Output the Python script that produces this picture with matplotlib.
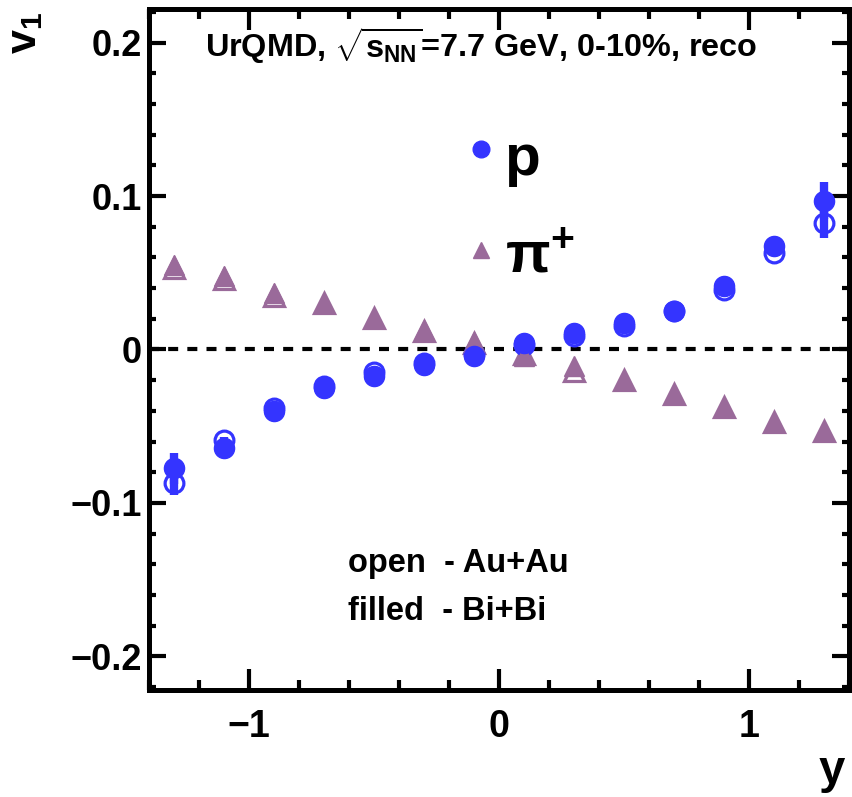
import numpy as np
import matplotlib
matplotlib.use("Agg")
import matplotlib.pyplot as plt
from matplotlib.ticker import MultipleLocator

plt.rcParams["font.family"] = ["Liberation Sans", "DejaVu Sans"]
plt.rcParams["font.weight"] = "bold"
plt.rcParams["mathtext.fontset"] = "custom"
plt.rcParams["mathtext.rm"] = "Liberation Sans:bold"
plt.rcParams["mathtext.it"] = "Liberation Sans:bold"
plt.rcParams["mathtext.bf"] = "Liberation Sans:bold"

# rapidity bins
y_bins = [-1.3, -1.1, -0.9, -0.7, -0.5, -0.3, -0.1, 0.1, 0.3, 0.5, 0.7, 0.9, 1.1, 1.3]

# protons
p_bibi = [-0.0775, -0.064, -0.040, -0.0248, -0.017, -0.0098, -0.0045,
          0.004, 0.011, 0.017, 0.0254, 0.0417, 0.0677, 0.097]
p_bibi_err = [0.010, 0.002, 0.002, 0.002, 0.002, 0.002, 0.002,
              0.002, 0.002, 0.002, 0.002, 0.002, 0.002, 0.012]
p_auau = [-0.087, -0.059, -0.038, -0.024, -0.015, -0.009, -0.003,
          0.003, 0.009, 0.0155, 0.0254, 0.0385, 0.063, 0.0827]
p_auau_err = [0.008, 0.002, 0.002, 0.002, 0.002, 0.002, 0.002,
              0.002, 0.002, 0.002, 0.002, 0.002, 0.002, 0.010]

# positive pions
pi_bibi = [0.0553, 0.048, 0.037, 0.030, 0.0208, 0.0124, 0.005,
           -0.004, -0.011, -0.0196, -0.0287, -0.0376, -0.0475, -0.0534]
pi_auau = [0.053, 0.046, 0.035, 0.030, 0.0205, 0.0122, 0.0045,
           -0.003, -0.014, -0.0196, -0.0287, -0.0376, -0.0475, -0.0534]

blue = "#3434ff"
purple = "#9a6a9a"

fig = plt.figure(figsize=(8.53, 7.97), dpi=100)
ax = fig.add_axes([0.1747, 0.1343, 0.8206, 0.8544])

ax.axhline(0, color="black", lw=3, dashes=(2.4, 2.2), zorder=1)

ax.errorbar(y_bins, p_auau, yerr=p_auau_err, fmt="o", ms=13.5, mfc="none",
            mec=blue, mew=2.3, ecolor=blue, elinewidth=6, capsize=0, zorder=3)
ax.errorbar(y_bins, p_bibi, yerr=p_bibi_err, fmt="o", ms=14.5, mfc=blue,
            mec=blue, ecolor=blue, elinewidth=6, capsize=0, zorder=4)
ax.plot(y_bins, pi_auau, "^", ms=14, mfc="none", mec=purple, mew=2.3, zorder=3)
ax.plot(y_bins, pi_bibi, "^", ms=14, mfc=purple, mec=purple, zorder=4)

ax.set_xlim(-1.4, 1.4)
ax.set_ylim(-0.222, 0.222)

ax.xaxis.set_minor_locator(MultipleLocator(0.2))
ax.yaxis.set_minor_locator(MultipleLocator(0.02))
ax.set_xticks([-1, 0, 1])
ax.set_xticklabels(["\u22121", "0", "1"], fontweight="bold")
ax.set_yticks([-0.2, -0.1, 0, 0.1, 0.2])
ax.set_yticklabels(["\u22120.2", "\u22120.1", "0", "0.1", "0.2"],
                   fontweight="bold")

for s in ax.spines.values():
    s.set_linewidth(3.6)
ax.tick_params(axis="both", which="both", direction="in", top=True, right=True,
               width=3)
ax.tick_params(axis="x", which="major", length=15, labelsize=27, pad=14)
ax.tick_params(axis="x", which="minor", length=7)
ax.tick_params(axis="y", which="major", length=12, labelsize=26, pad=5)
ax.tick_params(axis="y", which="minor", length=5)

fig.text(0.03, 0.985, "v$_{1}$", rotation=90, fontsize=31,
         fontweight="bold", ha="center", va="top")
fig.text(0.975, 0.005, "y", fontsize=34, fontweight="bold", ha="center",
         va="bottom")

ax.text(0.474, 0.9295, r"UrQMD, $\sqrt{s_{NN}}$=7.7 GeV, 0-10%, reco",
        transform=ax.transAxes, ha="center", va="baseline", fontsize=23.3,
        fontweight="bold")

ax.plot([0.474], [0.794], "o", ms=12, color=blue, transform=ax.transAxes)
ax.text(0.508, 0.756, "p", transform=ax.transAxes, fontsize=42,
        fontweight="bold", va="baseline")
ax.plot([0.474], [0.646], "^", ms=12, color=purple, transform=ax.transAxes)
ax.text(0.508, 0.614, "\u03c0$^{+}$", transform=ax.transAxes, fontsize=42,
        fontweight="bold", va="baseline")

ax.text(0.284, 0.173, "open  - Au+Au", transform=ax.transAxes, fontsize=23.5,
        fontweight="bold", va="baseline")
ax.text(0.284, 0.103, "filled  - Bi+Bi", transform=ax.transAxes, fontsize=23.5,
        fontweight="bold", va="baseline")

fig.savefig("out.png", dpi=100)
